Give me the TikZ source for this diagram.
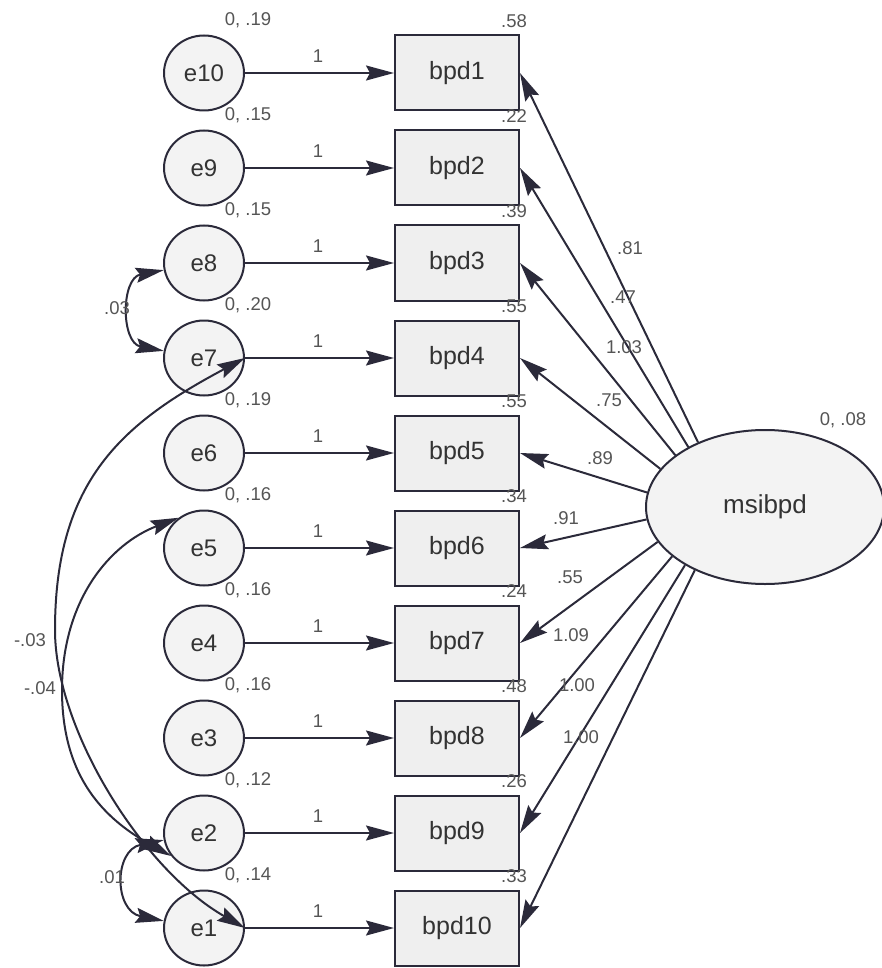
\documentclass[tikz,border=0pt]{standalone}
\usepackage{fontspec}
\setmainfont{Liberation Sans}
\usetikzlibrary{arrows.meta,shapes.geometric}
\definecolor{ink}{HTML}{2B2A3A}
\definecolor{txt}{HTML}{333333}
\definecolor{numc}{HTML}{555555}
\definecolor{boxfill}{HTML}{EFEFEF}
\definecolor{shade}{HTML}{F3F3F3}
\begin{document}
\begin{tikzpicture}[x=1pt,y=-1pt,
  tip/.tip={Stealth[length=28pt,width=15pt,inset=4pt]},
  evar/.style={ellipse, draw=ink, line width=2pt, fill=shade, minimum width=80pt, minimum height=75pt, inner sep=0pt, font=\fontsize{24}{24}\selectfont, text=txt},
  obs/.style={rectangle, draw=ink, line width=2pt, fill=boxfill, minimum width=124pt, minimum height=75pt, inner sep=0pt, font=\fontsize{25}{25}\selectfont, text=txt},
  lat/.style={ellipse, draw=ink, line width=2pt, fill=shade, minimum width=238pt, minimum height=154pt, inner sep=0pt, font=\fontsize{26}{26}\selectfont, text=txt},
  pth/.style={draw=ink, line width=2pt, -tip},
  cov/.style={draw=ink, line width=2pt, tip-tip},
  num/.style={font=\fontsize{18.5}{18.5}\selectfont, text=numc, inner sep=0pt},
]
\useasboundingbox (0,0) rectangle (882,968);

\node[lat] (m) at (765,507) {msibpd};
\node[num] at (843,420) {0, .08};

\foreach \i/\ev/\bv in {1/.19/.58, 2/.15/.22, 3/.15/.39, 4/.20/.55, 5/.19/.55, 6/.16/.34, 7/.16/.24, 8/.16/.48, 9/.12/.26, 10/.14/.33}{
  \pgfmathsetmacro\y{73+95*(\i-1)}
  \pgfmathtruncatemacro\e{11-\i}
  \node[evar] (e\e) at (204,\y) {e\e};
  \node[obs] (bpd\i) at (457,\y) {bpd\i};
  \draw[pth] (e\e) -- (bpd\i);
  \node[num] at (318,\y-17) {1};
  \node[num] at (248,\y-53) {0, \ev};
  \node[num] at (514,\y-52) {\bv};
}

\foreach \i/\a/\lab/\lx/\ly in {1/136/.81/630/248, 2/142.5/.47/623/297, 3/150.4/1.03/624/347, 4/160/.75/609/400, 5/173/.89/600/458, 6/186/.91/566/518, 7/198.4/.55/570/577, 8/208/1.09/571/635, 9/216/1.00/577/685, 10/222/1.00/581/737}{
  \draw[pth] (m.\a) -- (bpd\i.east);
  \node[num] at (\lx,\ly) {\lab};
}

\draw[cov] (e8.190) .. controls +(-43,8) and +(-43,-8) .. (e7.170);
\node[num] at (117,308) {.03};

\draw[cov] (e2.190) .. controls +(-50,10) and +(-50,-10) .. (e1.170);
\node[num] at (112,877) {.01};

\draw[cov] (e5.130) .. controls (110,544) and (62,600) .. (62,690) .. controls (62,770) and (97,815) .. (e2.215);
\node[num] at (40,688) {-.04};

\draw[cov] (e7.east) .. controls (123,423) and (55,480) .. (55,630) .. controls (55,730) and (143,870) .. (e1.east);
\node[num] at (30,640) {-.03};
\end{tikzpicture}
\end{document}
